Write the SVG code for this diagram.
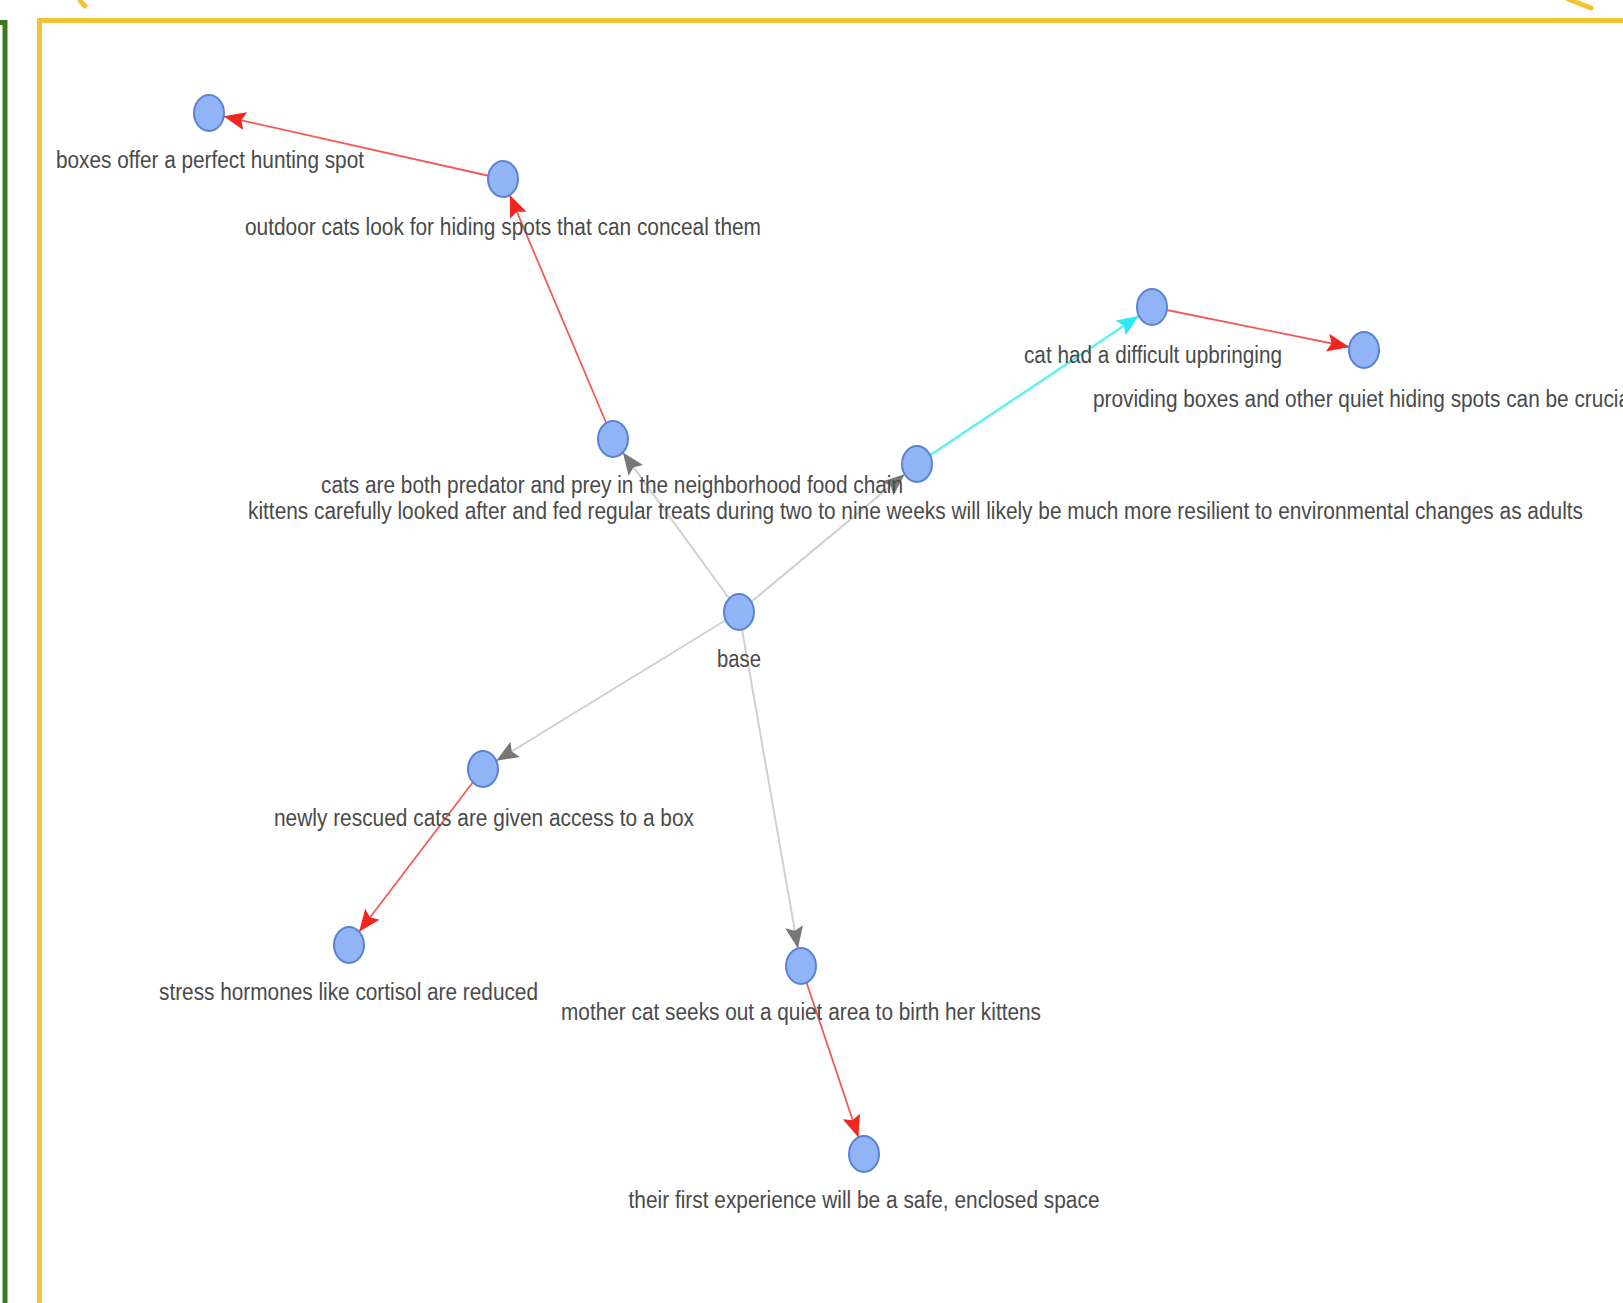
<svg xmlns="http://www.w3.org/2000/svg" width="1623" height="1303" viewBox="0 0 1623 1303">
<style>
.node ellipse{fill:#90B4F5;stroke:#5B82D6;stroke-width:2}
.node text{font-family:"Liberation Sans",Arial,sans-serif;font-size:23px;fill:#4a4a4a;text-anchor:middle}
.e-red{stroke:#F25A55;stroke-width:1.8;fill:none}
.e-gray{stroke:#D0D0D0;stroke-width:2;fill:none}
.e-cyan{stroke:#5EF2F2;stroke-width:2.5;fill:none}
</style>
<defs>
<marker id="ar-red" markerUnits="userSpaceOnUse" markerWidth="22" markerHeight="18" viewBox="0 0 22 18" refX="22" refY="9" orient="auto"><path d="M0,0 L22,9 L0,18 L4,9 Z" fill="#F2261E"/></marker>
<marker id="ar-gray" markerUnits="userSpaceOnUse" markerWidth="22" markerHeight="18" viewBox="0 0 22 18" refX="22" refY="9" orient="auto"><path d="M0,0 L22,9 L0,18 L4,9 Z" fill="#777777"/></marker>
<marker id="ar-cyan" markerUnits="userSpaceOnUse" markerWidth="22" markerHeight="18" viewBox="0 0 22 18" refX="22" refY="9" orient="auto"><path d="M0,0 L22,9 L0,18 L4,9 Z" fill="#2FEAF2"/></marker>
</defs>
<rect width="1623" height="1303" fill="#ffffff"/>
<g id="frame" fill="none" stroke-linecap="round">
<path d="M-5 22.5 H5 V1310" stroke="#3B7A1E" stroke-width="5"/>
<path d="M39.5 1310 V20.5 H1630" stroke="#F2C335" stroke-width="5"/>
<path d="M79 -2 Q81 3 85 6" stroke="#F2C335" stroke-width="5"/>
<path d="M1568 -1 L1591 8" stroke="#F2C335" stroke-width="5"/>
</g>
<g id="connectors">
<line class="e-red" x1="503" y1="179" x2="223.7" y2="116.3" marker-end="url(#ar-red)"/>
<line class="e-red" x1="613" y1="439" x2="509.8" y2="195.1" marker-end="url(#ar-red)"/>
<line class="e-gray" x1="739" y1="612" x2="622.9" y2="452.6" marker-end="url(#ar-gray)"/>
<line class="e-gray" x1="739" y1="612" x2="904.7" y2="474.3" marker-end="url(#ar-gray)"/>
<line class="e-cyan" x1="917" y1="464" x2="1138.9" y2="315.8" marker-end="url(#ar-cyan)"/>
<line class="e-red" x1="1152" y1="307" x2="1349.2" y2="347" marker-end="url(#ar-red)"/>
<line class="e-gray" x1="739" y1="612" x2="496.4" y2="760.8" marker-end="url(#ar-gray)"/>
<line class="e-red" x1="483" y1="769" x2="359.1" y2="931.7" marker-end="url(#ar-red)"/>
<line class="e-gray" x1="739" y1="612" x2="797.9" y2="948.4" marker-end="url(#ar-gray)"/>
<line class="e-red" x1="801" y1="966" x2="858.4" y2="1137.3" marker-end="url(#ar-red)"/>
</g>
<g id="n-boxes" class="node"><ellipse cx="209" cy="113" rx="15" ry="18"/><text x="210" y="168" textLength="308" lengthAdjust="spacingAndGlyphs">boxes offer a perfect hunting spot</text></g>
<g id="n-outdoor" class="node"><ellipse cx="503" cy="179" rx="15" ry="18"/><text x="503" y="235" textLength="516" lengthAdjust="spacingAndGlyphs">outdoor cats look for hiding spots that can conceal them</text></g>
<g id="n-upbringing" class="node"><ellipse cx="1152" cy="307" rx="15" ry="18"/><text x="1153" y="363" textLength="258" lengthAdjust="spacingAndGlyphs">cat had a difficult upbringing</text></g>
<g id="n-providing" class="node"><ellipse cx="1364" cy="350" rx="15" ry="18"/><text x="1093" y="407" style="text-anchor:start" textLength="537" lengthAdjust="spacingAndGlyphs">providing boxes and other quiet hiding spots can be crucia</text></g>
<g id="n-predator" class="node"><ellipse cx="613" cy="439" rx="15" ry="18"/><text x="612" y="493" textLength="582" lengthAdjust="spacingAndGlyphs">cats are both predator and prey in the neighborhood food chain</text></g>
<g id="n-kittens" class="node"><ellipse cx="917" cy="464" rx="15" ry="18"/><text x="915.5" y="519" textLength="1335" lengthAdjust="spacingAndGlyphs">kittens carefully looked after and fed regular treats during two to nine weeks will likely be much more resilient to environmental changes as adults</text></g>
<g id="n-base" class="node"><ellipse cx="739" cy="612" rx="15" ry="18"/><text x="739" y="667" textLength="44" lengthAdjust="spacingAndGlyphs">base</text></g>
<g id="n-newly" class="node"><ellipse cx="483" cy="769" rx="15" ry="18"/><text x="484" y="826" textLength="420" lengthAdjust="spacingAndGlyphs">newly rescued cats are given access to a box</text></g>
<g id="n-stress" class="node"><ellipse cx="349" cy="945" rx="15" ry="18"/><text x="348.5" y="1000" textLength="379" lengthAdjust="spacingAndGlyphs">stress hormones like cortisol are reduced</text></g>
<g id="n-mother" class="node"><ellipse cx="801" cy="966" rx="15" ry="18"/><text x="801" y="1020" textLength="480" lengthAdjust="spacingAndGlyphs">mother cat seeks out a quiet area to birth her kittens</text></g>
<g id="n-first" class="node"><ellipse cx="864" cy="1154" rx="15" ry="18"/><text x="864" y="1208" textLength="471" lengthAdjust="spacingAndGlyphs">their first experience will be a safe, enclosed space</text></g>
</svg>
